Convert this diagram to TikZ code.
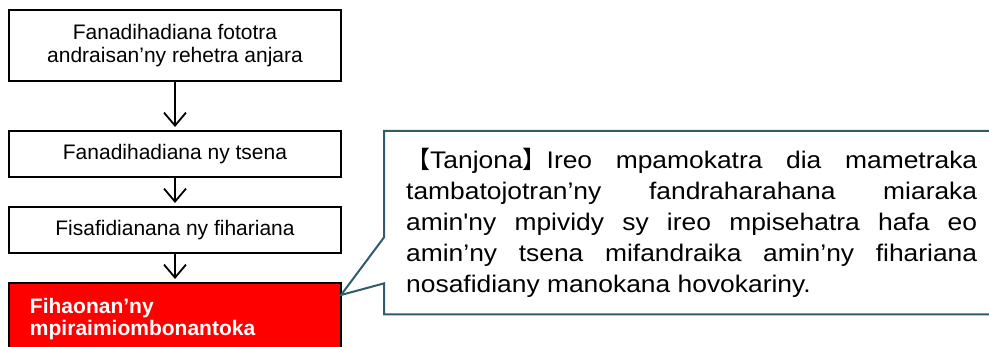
\documentclass[tikz,border=0pt]{standalone}
\usepackage{fontspec}
\setmainfont{Liberation Sans}
\newfontfamily\cjk{Noto Sans CJK SC}
\newfontfamily\calloutfont[FakeStretch=1.1]{Liberation Sans}
\usepackage{xcolor}
\usepackage{tikz}
\usetikzlibrary{arrows.meta, positioning, calc}
\definecolor{goalcol}{RGB}{47,93,108}
\definecolor{keycol}{RGB}{255,0,0}

\begin{document}
\begin{tikzpicture}[
  x=1pt, y=1pt,
  stage/.style={rectangle, draw, line width=2pt, minimum width=332pt,
                minimum height=46pt, align=center,
                font=\fontsize{21}{23.5}\selectfont},
  keystage/.style={stage, fill=keycol, text=white, text width=290pt,
                   inner xsep=21pt, align=left, minimum height=72pt,
                   font=\fontsize{21}{22.5}\selectfont\bfseries},
  arr/.style={-{Straight Barb[length=13pt, width=22pt]}, line width=1.8pt,
              shorten >=3pt},
  goalbox/.style={rectangle, anchor=north west, text width=571pt,
                  inner xsep=22pt, minimum height=183pt, align=justify,
                  font=\fontsize{24}{31}\calloutfont},
  goalline/.style={draw=goalcol, line width=2pt, fill=white},
]
\useasboundingbox (0,0) rectangle (989,-347);

% Stages
\node[stage, minimum height=71pt] (survey) at (175,-45.5)
  {Fanadihadiana fototra\\andraisan’ny rehetra anjara};
\node[stage, below=48pt of survey] (market) {Fanadihadiana ny tsena};
\node[stage, below=28pt of market] (product) {Fisafidianana ny fihariana};
\node[keystage, below=28pt of product] (partner)
  {Fihaonan’ny\\mpiraimiombonantoka};

% Flow
\draw[arr] (survey) -- (market);
\draw[arr] (market) -- (product);
\draw[arr] (product) -- (partner);

% Callout
\coordinate (tip) at ([xshift=-1pt, yshift=-13pt]partner.north east);
\node[goalbox] (goal) at (384,-131) {};
\draw[goalline] (goal.north west) -- (goal.north east) -- (goal.south east)
  -- (goal.south west) -- ([yshift=31pt]goal.south west) -- (tip)
  -- ([yshift=77pt]goal.south west) -- cycle;
\node[goalbox] at (goal.north west)
  {{\cjk 【}Tanjona{\cjk 】}Ireo mpamokatra dia mametraka\linebreak
   tambatojotran’ny fandraharahana miaraka\linebreak
   amin'ny mpividy sy ireo mpisehatra hafa eo\linebreak
   amin’ny tsena mifandraika amin’ny fihariana\linebreak
   nosafidiany manokana hovokariny.};
\end{tikzpicture}
\end{document}
